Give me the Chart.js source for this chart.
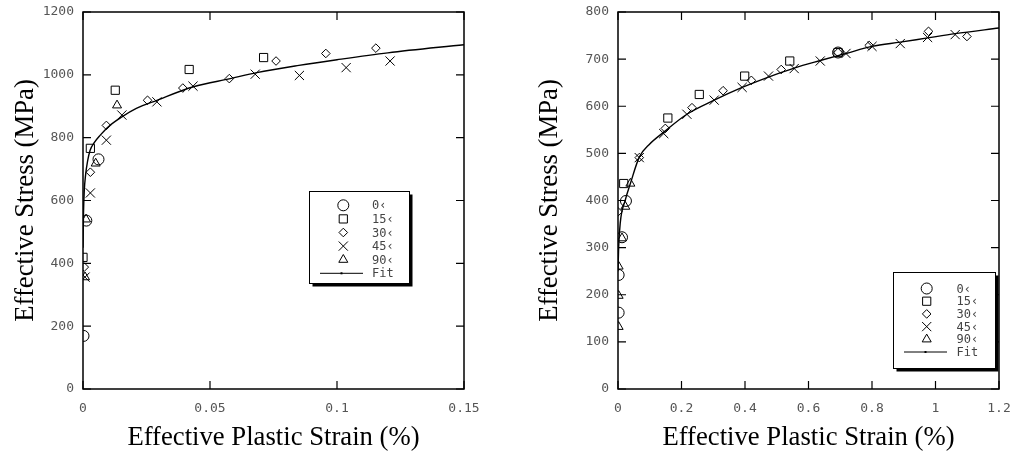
<!DOCTYPE html>
<html>
<head>
<meta charset="utf-8">
<script src="https://cdn.jsdelivr.net/npm/chart.js@4.4.1/dist/chart.umd.min.js"></script>
<style>
  body { margin: 0; background: #fff; }
  #wrap { position: relative; width: 1012px; height: 456px; }
  canvas { position: absolute; top: 0; }
</style>
</head>
<body>
<div id="wrap">
  <canvas id="leftChart" width="506" height="456" style="left:0"></canvas>
  <canvas id="rightChart" width="506" height="456" style="left:506px"></canvas>
</div>
<script>
// legend / series info
const seriesNames = ["0‹", "15‹", "30‹", "45‹", "90‹"];
const pointStyles = ["circle", "rect", "rectRot", "crossRot", "triangle"];
const pointSizes = [5.5, 5.8, 4.3, 6.5, 5.2];

// left chart (small strain range)
const leftXTicks = [0, 0.05, 0.1, 0.15];
const leftYTicks = [0, 200, 400, 600, 800, 1000, 1200];
const left0 = [[0.0002, 169], [0.0013, 536], [0.0061, 731]];
const left15 = [[0, 419], [0.0029, 766], [0.0127, 951], [0.0418, 1017], [0.0711, 1055]];
const left30 = [[0.0005, 388], [0.0029, 690], [0.0092, 839], [0.0254, 919], [0.0393, 958],
  [0.0576, 988], [0.076, 1044], [0.0956, 1068], [0.1153, 1085]];
const left45 = [[0.0008, 356], [0.0029, 624], [0.0092, 792], [0.0153, 872], [0.0291, 914],
  [0.0433, 964], [0.0678, 1002], [0.0852, 998], [0.1036, 1023], [0.1209, 1044]];
const left90 = [[0.0008, 356], [0.0012, 540], [0.005, 718], [0.0134, 903]];
const leftFitX = [0, 0.0002, 0.0005, 0.001, 0.0018, 0.0028, 0.0045, 0.0068, 0.01, 0.0153,
  0.021, 0.0291, 0.0435, 0.058, 0.0684, 0.085, 0.1, 0.12, 0.15];
const leftFitY = [450, 560, 630, 680, 725, 760, 785, 808, 835, 866,
  893, 919, 962, 988, 1007, 1030, 1048, 1070, 1096];

// right chart (full strain range)
const rightXTicks = [0, 0.2, 0.4, 0.6, 0.8, 1, 1.2];
const rightYTicks = [0, 100, 200, 300, 400, 500, 600, 700, 800];
const right0 = [[0.002, 162], [0.002, 242], [0.0126, 322], [0.025, 399], [0.693, 714]];
const right15 = [[0.018, 436], [0.157, 575], [0.256, 625], [0.399, 664], [0.541, 696], [0.693, 714]];
const right30 = [[0, 376], [0.067, 491], [0.149, 553], [0.233, 597], [0.331, 633], [0.42, 655],
  [0.514, 678], [0.693, 714], [0.791, 729], [0.978, 759], [1.099, 748]];
const right45 = [[0.067, 491], [0.144, 542], [0.217, 583], [0.303, 613], [0.391, 640], [0.474, 664],
  [0.555, 680], [0.637, 696], [0.718, 712], [0.8, 727], [0.889, 733], [0.975, 746], [1.062, 752]];
const right90 = [[0.002, 132], [0.002, 198], [0.002, 260], [0.0126, 320], [0.023, 387], [0.039, 436]];
const rightFitX = [0, 0.002, 0.007, 0.023, 0.039, 0.067, 0.1, 0.144, 0.217, 0.303, 0.391,
  0.474, 0.555, 0.637, 0.718, 0.8, 0.889, 0.975, 1.062, 1.2];
const rightFitY = [250, 300, 352, 401, 436, 492, 520, 545, 583, 613, 640,
  662, 681, 697, 712, 727, 736, 745, 754, 766];

const tickFont = { family: "DejaVu Sans Mono", size: 13 };

// frame, inward ticks, axis titles and boxed legend
const framePlugin = {
  id: "frame",
  afterDraw(chart, args, opts) {
    const { ctx, chartArea: a } = chart;
    const xs = chart.scales.x, ys = chart.scales.y;
    ctx.save();
    ctx.strokeStyle = "#000";
    ctx.lineWidth = 1.5;
    ctx.strokeRect(a.left, a.top, a.right - a.left, a.bottom - a.top);

    ctx.lineWidth = 1.2;
    ctx.beginPath();
    xs.ticks.forEach((t) => {
      const px = xs.getPixelForValue(t.value);
      ctx.moveTo(px, a.bottom); ctx.lineTo(px, a.bottom - 8);
      ctx.moveTo(px, a.top); ctx.lineTo(px, a.top + 8);
    });
    ys.ticks.forEach((t) => {
      const py = ys.getPixelForValue(t.value);
      ctx.moveTo(a.left, py); ctx.lineTo(a.left + 8, py);
      ctx.moveTo(a.right, py); ctx.lineTo(a.right - 8, py);
    });
    ctx.stroke();

    // axis titles
    ctx.fillStyle = "#000";
    ctx.font = '26.7px "Liberation Serif"';
    ctx.textAlign = "center";
    ctx.textBaseline = "middle";
    ctx.fillText("Effective Plastic Strain (%)", (a.left + a.right) / 2, 438);
    ctx.save();
    ctx.translate(opts.yTitleX, (a.top + a.bottom) / 2);
    ctx.rotate(-Math.PI / 2);
    ctx.fillText("Effective Stress (MPa)", 0, 0);
    ctx.restore();

    // legend box with drop shadow
    const [bx, by, bw, bh] = opts.box;
    ctx.fillStyle = "#000";
    ctx.fillRect(bx + 3, by + 3, bw, bh);
    ctx.fillStyle = "#fff";
    ctx.fillRect(bx, by, bw, bh);
    ctx.lineWidth = 1;
    ctx.strokeRect(bx, by, bw, bh);

    ctx.font = '12px "DejaVu Sans Mono"';
    ctx.textAlign = "left";
    chart.data.datasets.forEach((ds, i) => {
      const ry = opts.row0 + i * opts.rowH;
      ctx.strokeStyle = "#000";
      ctx.fillStyle = "rgba(0,0,0,0)";
      if (ds.showLine) {
        ctx.lineWidth = 1;
        ctx.beginPath();
        ctx.moveTo(opts.lineX[0], ry);
        ctx.lineTo(opts.lineX[1], ry);
        ctx.stroke();
        ctx.fillStyle = "#000";
        ctx.fillRect((opts.lineX[0] + opts.lineX[1]) / 2 - 1, ry - 1, 2, 2);
      } else {
        ctx.lineWidth = 1;
        Chart.helpers.drawPoint(ctx, {
          pointStyle: ds.pointStyle, radius: ds.pointRadius, borderWidth: 1, rotation: 0
        }, opts.symX, ry);
      }
      ctx.fillStyle = "#444";
      ctx.fillText(ds.label, opts.textX, ry + 1);
    });
    ctx.restore();
  }
};

function toPts(pairs) {
  return pairs.map((p) => ({ x: p[0], y: p[1] }));
}

function makeChart(id, sets, fitX, fitY, xTicks, yTicks, cfg) {
  const datasets = sets.map((s, i) => ({
    label: seriesNames[i],
    data: toPts(s),
    pointStyle: pointStyles[i],
    pointRadius: pointSizes[i],
    pointBorderColor: "#000",
    pointBackgroundColor: "rgba(0,0,0,0)",
    pointBorderWidth: 1,
    showLine: false
  }));
  datasets.push({
    label: "Fit",
    data: fitX.map((x, i) => ({ x: x, y: fitY[i] })),
    showLine: true,
    borderColor: "#000",
    borderWidth: 1.4,
    pointRadius: 0,
    cubicInterpolationMode: "monotone"
  });

  return new Chart(document.getElementById(id), {
    type: "scatter",
    data: { datasets: datasets },
    options: {
      responsive: false,
      animation: false,
      devicePixelRatio: 1,
      layout: { padding: { top: 12, right: cfg.padRight, left: 0, bottom: 0 } },
      plugins: {
        legend: { display: false },
        tooltip: { enabled: false },
        frame: cfg.frame
      },
      scales: {
        x: {
          type: "linear",
          min: xTicks[0],
          max: xTicks[xTicks.length - 1],
          grid: { display: false, drawTicks: false },
          border: { display: false },
          ticks: { color: "#555", font: tickFont, padding: 12, maxRotation: 0,
            callback: (v) => String(v) },
          afterBuildTicks: (s) => { s.ticks = xTicks.map((v) => ({ value: v })); },
          afterFit: (s) => { s.height = 67; s.paddingLeft = 0; s.paddingRight = 0; }
        },
        y: {
          type: "linear",
          min: yTicks[0],
          max: yTicks[yTicks.length - 1],
          grid: { display: false, drawTicks: false },
          border: { display: false },
          ticks: { color: "#555", font: tickFont, padding: 9,
            callback: (v) => String(v) },
          afterBuildTicks: (s) => { s.ticks = yTicks.map((v) => ({ value: v })); },
          afterFit: (s) => { s.width = cfg.yWidth; s.paddingTop = 0; s.paddingBottom = 0; }
        }
      }
    },
    plugins: [framePlugin]
  });
}

makeChart("leftChart", [left0, left15, left30, left45, left90], leftFitX, leftFitY,
  leftXTicks, leftYTicks, {
    padRight: 42, yWidth: 83,
    frame: { yTitleX: 26, box: [309.5, 191.5, 100, 92], row0: 205.3, rowH: 13.6,
      symX: 343.3, textX: 372, lineX: [320, 363] }
  });

makeChart("rightChart", [right0, right15, right30, right45, right90], rightFitX, rightFitY,
  rightXTicks, rightYTicks, {
    padRight: 13, yWidth: 112,
    frame: { yTitleX: 44, box: [387.5, 272.5, 102, 96], row0: 288.5, rowH: 12.7,
      symX: 420.7, textX: 450.5, lineX: [398, 441] }
  });
</script>
</body>
</html>
